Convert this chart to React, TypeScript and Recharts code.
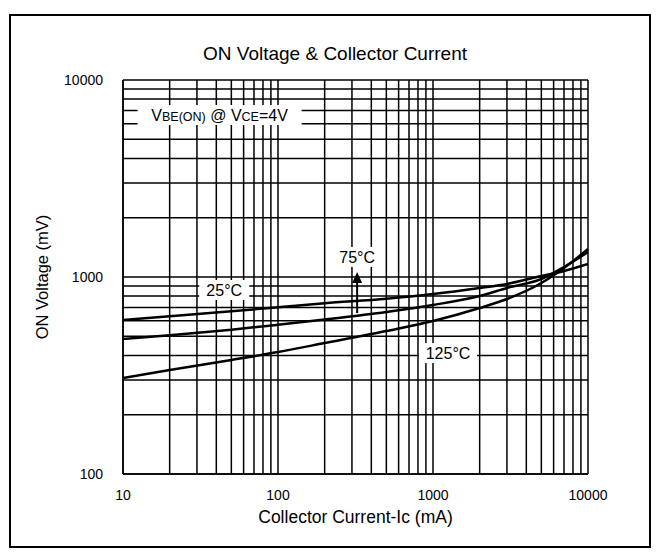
import { CartesianGrid, Line, LineChart, ReferenceDot, ReferenceLine, XAxis, YAxis } from "recharts";

// Collector current (mA) and ON voltage (mV).
const currentMa = [10, 20, 50, 100, 200, 500, 1000, 2000, 3000, 5000, 7000, 10000];
const von25 = [605, 632, 670, 702, 736, 776, 820, 880, 922, 1012, 1073, 1164];
const von75 = [485, 506, 540, 572, 608, 664, 721, 801, 880, 977, 1124, 1339];
const von125 = [307, 337, 379, 416, 462, 532, 598, 696, 773, 932, 1111, 1387];

const xTicks = [10, 20, 30, 40, 50, 60, 70, 80, 90, 100, 200, 300, 400, 500, 600, 700, 800, 900, 1000, 2000, 3000, 4000, 5000, 6000, 7000, 8000, 9000, 10000];
const yTicks = [100, 200, 300, 400, 500, 600, 700, 800, 900, 1000, 2000, 3000, 4000, 5000, 6000, 7000, 8000, 9000, 10000];
const decades = [10, 100, 1000, 10000];

const data = currentMa.map((ic, i) => ({
  ic,
  t25: von25[i],
  t75: von75[i],
  t125: von125[i],
}));

const FONT = '"Liberation Sans", Arial, sans-serif';

const showDecade = (v: number) => (decades.includes(v) ? String(v) : "");

// white-backed label placed in data space
function boxLabel(text: React.ReactNode, w: number) {
  return (props: any) => {
    const { cx, cy } = props;
    return (
      <g>
        <rect x={cx - w / 2} y={cy - 10} width={w} height={20} fill="#fff" />
        <text x={cx} y={cy + 6} textAnchor="middle" fontFamily={FONT} fontSize={16} fill="#000">
          {text}
        </text>
      </g>
    );
  };
}

const arrowHead = (props: any) => {
  const { cx, cy } = props;
  return <path d={`M${cx},${cy} L${cx - 5},${cy + 11} L${cx + 5},${cy + 11} Z`} fill="#000" />;
};

export default function App() {
  return (
    <div style={{ position: "absolute", left: 0, top: 0, width: 656, height: 555, background: "#fff" }}>
      <div
        style={{
          position: "absolute",
          left: 9,
          top: 14,
          width: 638,
          height: 530,
          border: "2px solid #000",
        }}
      />
      <div
        style={{
          position: "absolute",
          left: 0,
          width: 656,
          top: 43,
          textAlign: "center",
          fontFamily: FONT,
          fontSize: 19,
          paddingLeft: 14,
          boxSizing: "border-box",
        }}
      >
        ON Voltage &amp; Collector Current
      </div>
      <div style={{ position: "absolute", left: 0, top: 0 }}>
        <LineChart width={656} height={555} data={data} margin={{ top: 80, right: 68, bottom: 0, left: 0 }}>
          <CartesianGrid stroke="#000" strokeWidth={1.5} strokeOpacity={1} />
          <XAxis
            dataKey="ic"
            type="number"
            scale="log"
            domain={[10, 10000]}
            ticks={xTicks}
            tickFormatter={showDecade}
            interval={0}
            height={81}
            tickLine={false}
            axisLine={{ stroke: "#000", strokeWidth: 1.5 }}
            tick={{ fill: "#000", fontSize: 14, fontFamily: FONT }}
            tickMargin={10}
            allowDataOverflow
            label={{
              value: "Collector Current-Ic (mA)",
              position: "insideTop",
              offset: 37,
              style: { fill: "#000", fontSize: 17.5, fontFamily: FONT },
            }}
          />
          <YAxis
            type="number"
            scale="log"
            domain={[100, 10000]}
            ticks={yTicks}
            tickFormatter={showDecade}
            interval={0}
            width={123}
            tickLine={false}
            axisLine={{ stroke: "#000", strokeWidth: 1.5 }}
            tick={{ fill: "#000", fontSize: 14, fontFamily: FONT }}
            tickMargin={14}
            allowDataOverflow
            label={{
              value: "ON Voltage (mV)",
              angle: -90,
              position: "insideLeft",
              offset: 42,
              style: { fill: "#000", fontSize: 16.5, fontFamily: FONT, textAnchor: "middle" },
            }}
          />
          <Line type="monotone" dataKey="t25" stroke="#000" strokeWidth={2.5} dot={false} isAnimationActive={false} />
          <Line type="monotone" dataKey="t75" stroke="#000" strokeWidth={2.5} dot={false} isAnimationActive={false} />
          <Line type="monotone" dataKey="t125" stroke="#000" strokeWidth={2.5} dot={false} isAnimationActive={false} />
          <ReferenceDot
            x={42}
            y={6640}
            r={0}
            shape={boxLabel(
              <>
                V<tspan fontSize={12.5}>BE(ON)</tspan> @ V<tspan fontSize={12.5}>CE</tspan>=4V
              </>,
              164
            )}
          />
          <ReferenceDot x={45} y={859} r={0} shape={boxLabel("25°C", 50)} />
          <ReferenceDot x={324} y={1264} r={0} shape={boxLabel("75°C", 48)} />
          <ReferenceDot x={1250} y={411} r={0} shape={boxLabel("125°C", 58)} />
          <ReferenceLine
            segment={[
              { x: 324, y: 656 },
              { x: 324, y: 1000 },
            ]}
            stroke="#000"
            strokeWidth={2}
          />
          <ReferenceDot x={324} y={1059} r={0} shape={arrowHead} />
        </LineChart>
      </div>
    </div>
  );
}
